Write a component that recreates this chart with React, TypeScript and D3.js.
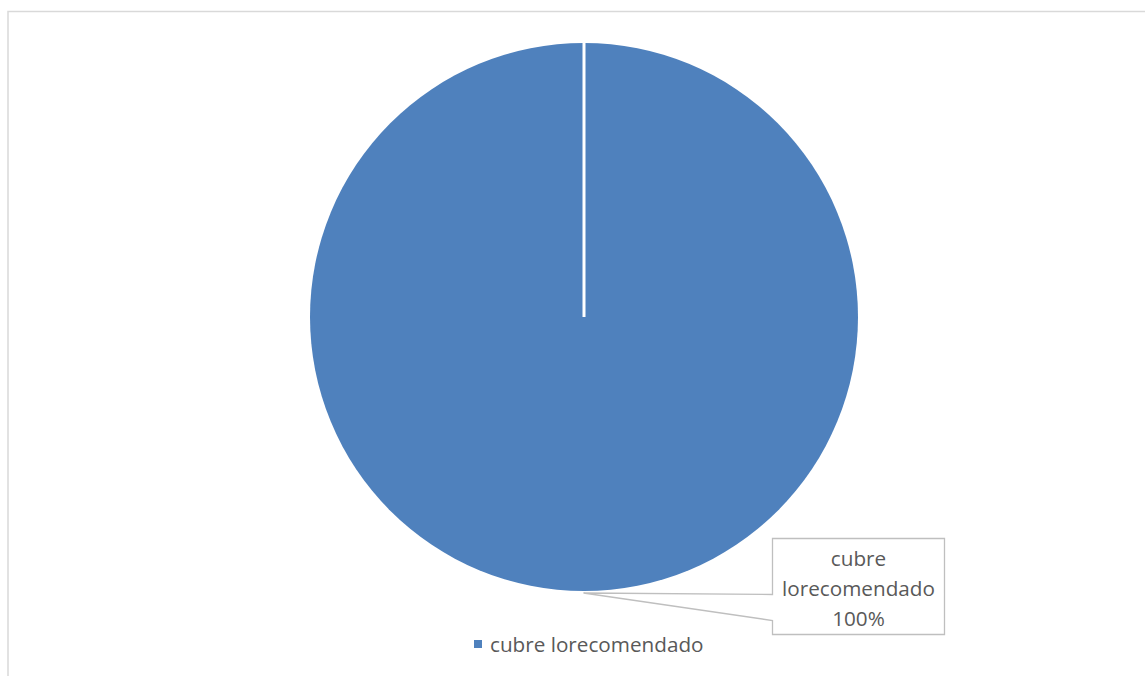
import React from "react";
import * as d3 from "d3";

const categories = ["cubre lorecomendado"];
const values = [100];
const labelLines = ["cubre", "lorecomendado", "100%"];

const W = 1145;
const H = 676;
const FONT = "'Open Sans', 'Liberation Sans', sans-serif";

export default function App() {
  const cx = 584;
  const cy = 317;
  const r = 274;
  const color = d3.scaleOrdinal<string, string>().domain(categories).range(["#4F81BD"]);
  const pie = d3.pie<number>().sort(null).value((d) => d);
  const arcs = pie(values);
  const arc = d3.arc<d3.PieArcDatum<number>>().innerRadius(0).outerRadius(r);
  const total = d3.sum(values);
  const pct = d3.format(".0%");

  const bx = 772.5, by = 538.5, bw = 172, bh = 96;
  const tip = [583.5, 593];
  const j1 = 594.5, j2 = 620.5;
  const calloutPath = `M${bx},${by} H${bx + bw} V${by + bh} H${bx} V${j2} L${tip[0]},${tip[1]} L${bx},${j1} Z`;

  return (
    <svg width={W} height={H} style={{ position: "fixed", left: 0, top: 0, background: "#fff" }}>
      <rect x={8} y={11.5} width={1200} height={700} fill="#fff" stroke="#D9D9D9" strokeWidth={1.5} />
      <g transform={`translate(${cx},${cy})`}>
        {arcs.map((a, i) => (
          <g key={i}>
            <path d={arc(a) || ""} fill={color(categories[i])} />
            <line
              x1={0}
              y1={0}
              x2={r * Math.sin(a.startAngle)}
              y2={-r * Math.cos(a.startAngle)}
              stroke="#fff"
              strokeWidth={3}
            />
          </g>
        ))}
      </g>
      <path d={calloutPath} fill="#fff" stroke="#BFBFBF" strokeWidth={1.3} />
      <text textAnchor="middle" fontFamily={FONT} fontSize={20.7} fill="#595959">
        {labelLines.slice(0, 2).map((t, i) => (
          <tspan key={i} x={bx + bw / 2} y={566 + i * 30}>{t}</tspan>
        ))}
        <tspan x={bx + bw / 2} y={566 + 2 * 30}>{pct(values[0] / total)}</tspan>
      </text>
      <g>
        {categories.map((c, i) => (
          <g key={c}>
            <rect x={474} y={640} width={8} height={8} fill={color(c)} />
            <text x={490} y={652} fontFamily={FONT} fontSize={20.7} fill="#595959">{c}</text>
          </g>
        ))}
      </g>
    </svg>
  );
}
